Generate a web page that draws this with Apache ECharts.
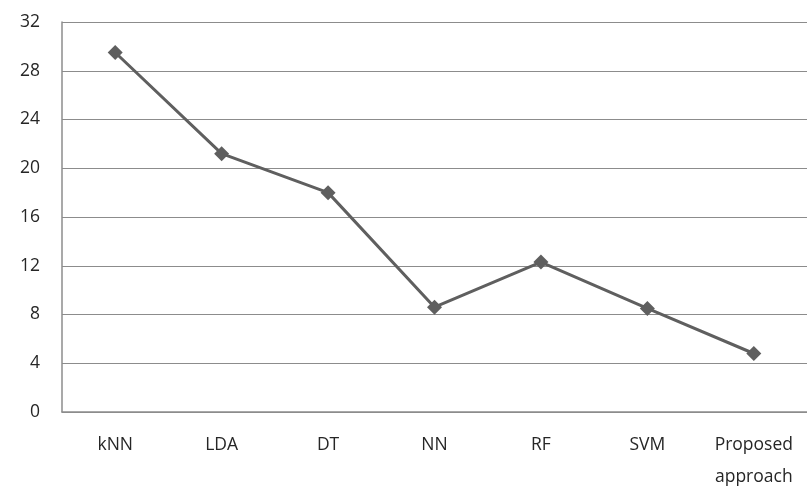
<!DOCTYPE html>
<html>
<head>
<meta charset="utf-8">
<script src="https://cdn.jsdelivr.net/npm/echarts@6/dist/echarts.min.js"></script>
<style>
  html, body { margin: 0; padding: 0; background: #fff; }
  #chart { width: 807px; height: 491px; }
</style>
</head>
<body>
<div id="chart"></div>
<script>
// Methods compared and their error values
const methods = ['kNN', 'LDA', 'DT', 'NN', 'RF', 'SVM', 'Proposed\napproach'];
const errorValues = [29.5, 21.2, 18.0, 8.6, 12.3, 8.5, 4.8];
const yTicks = [0, 4, 8, 12, 16, 20, 24, 28, 32];

const chart = echarts.init(document.getElementById('chart'));
chart.setOption({
  animation: false,
  backgroundColor: '#ffffff',
  grid: { left: 62, right: 0, top: 22, bottom: 79, outerBoundsMode: 'none', containLabel: false },
  xAxis: {
    type: 'category',
    data: methods,
    boundaryGap: true,
    axisLine: { lineStyle: { color: '#8c8c8c', width: 1.5 } },
    axisTick: { show: false },
    axisLabel: {
      color: '#262626',
      fontFamily: 'Open Sans',
      fontSize: 17.5,
      margin: 17,
      lineHeight: 32,
      interval: 0
    }
  },
  yAxis: {
    type: 'value',
    min: yTicks[0],
    max: yTicks[yTicks.length - 1],
    interval: 4,
    axisLine: { show: true, lineStyle: { color: '#8c8c8c', width: 1.5 } },
    axisTick: { show: false },
    splitLine: { lineStyle: { color: '#8c8c8c', width: 1.2 } },
    axisLabel: {
      color: '#262626',
      fontFamily: 'Open Sans',
      fontSize: 17.5,
      margin: 22
    }
  },
  series: [{
    type: 'line',
    data: errorValues,
    symbol: 'diamond',
    symbolSize: 15,
    lineStyle: { color: '#5f5f5f', width: 3 },
    itemStyle: { color: '#5f5f5f' }
  }]
});
</script>
</body>
</html>
